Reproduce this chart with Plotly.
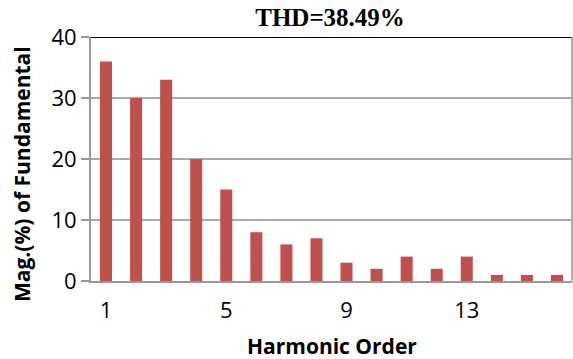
import plotly.graph_objects as go

orders = list(range(1, 17))
magnitudes = [36, 30, 33, 20, 15, 8, 6, 7, 3, 2, 4, 2, 4, 1, 1, 1]
tick_vals = [1, 5, 9, 13]
y_ticks = [0, 10, 20, 30, 40]
title_text = "THD=38.49%"
x_title = "Harmonic Order"
y_title = "Mag.(%) of Fundamental"

fig = go.Figure()
fig.add_trace(go.Bar(x=orders, y=magnitudes, width=0.4,
                     marker=dict(color="#C0504D", line=dict(width=0))))

fig.update_layout(
    width=573, height=359,
    margin=dict(l=91, r=1, t=37, b=78),
    plot_bgcolor="white", paper_bgcolor="white",
    showlegend=False,
    title=dict(text="<b>" + title_text + "</b>", x=0.576, xanchor="center",
               y=0.952, yanchor="middle",
               font=dict(family="Liberation Serif", size=25, color="black")),
    xaxis=dict(range=[0.5, 16.5], tickvals=tick_vals, ticktext=[str(v) for v in tick_vals],
               showgrid=False, showline=True, linecolor="#999999", linewidth=2,
               ticks="", ticklabelstandoff=9,
               tickfont=dict(family="Open Sans", size=22, color="black")),
    yaxis=dict(range=[0, 40], tickvals=y_ticks, showgrid=True, gridcolor="#AAAAAA", gridwidth=1.5,
               showline=True, linecolor="#999999", linewidth=2,
               ticks="outside", ticklen=8, tickcolor="#999999", tickwidth=1.5,
               zeroline=False,
               tickfont=dict(family="Open Sans", size=22, color="black")),
    annotations=[
        dict(text="<b>" + x_title + "</b>", xref="paper", yref="paper", x=0.5, y=0,
             xanchor="center", yanchor="middle", xshift=0, yshift=-65, showarrow=False,
             font=dict(family="Open Sans", size=21, color="black")),
        dict(text="<b>" + y_title + "</b>", xref="paper", yref="paper", x=0, y=0.5,
             xanchor="center", yanchor="middle", xshift=-69, yshift=-15, textangle=-90,
             showarrow=False, font=dict(family="Open Sans", size=21, color="black")),
    ],
)
fig.add_shape(type="line", xref="paper", yref="y", x0=0, x1=1, y0=40, y1=40,
              line=dict(color="black", width=2))
fig.add_shape(type="line", xref="paper", yref="paper", x0=1, x1=1, y0=0, y1=1,
              line=dict(color="#999999", width=1.5))

fig.write_html("out.html")
